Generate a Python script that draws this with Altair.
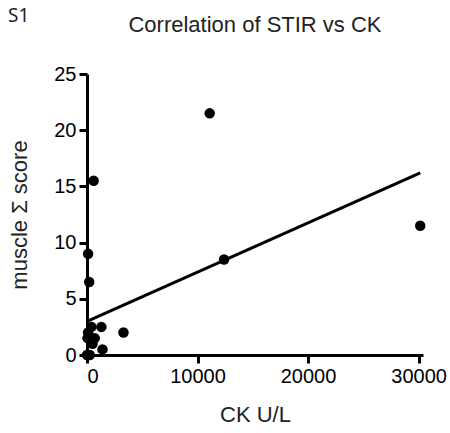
import altair as alt
import pandas as pd

ck = [11100, 30150, 12400, 600, 100, 200, 3300, 1300, 1400, 100, 50, 400, 500, 0, 250, 700]
score = [21.5, 11.5, 8.5, 15.5, 9.0, 6.5, 2.0, 2.5, 0.5, 2.0, 1.5, 2.5, 1.0, 0.0, 0.0, 1.5]

fit_x = [0, 30150]
fit_y = [3.0, 16.2]

pts = pd.DataFrame({"ck": ck, "score": score})
fit = pd.DataFrame({"ck": fit_x, "score": fit_y})

FONT = "Liberation Sans"

xs = alt.Scale(domain=[0, 30400], nice=False, zero=False)
ys = alt.Scale(domain=[0, 25], nice=False, zero=False)

xaxis = alt.Axis(values=[0, 10000, 20000, 30000], format="d", grid=False,
                 domainWidth=3, domainColor="black", tickWidth=3, tickColor="black",
                 tickSize=8, labelFontSize=20, labelFont=FONT, labelColor="black",
                 labelPadding=3, title="CK U/L", titleFont=FONT, titleFontSize=22,
                 titleFontWeight="normal", titleColor="#222", titlePadding=18)
yaxis = alt.Axis(values=[0, 5, 10, 15, 20, 25], grid=False,
                 domainWidth=3, domainColor="black", tickWidth=3, tickColor="black",
                 tickSize=8, labelFontSize=20, labelFont=FONT, labelColor="black",
                 labelPadding=3, title="muscle Σ score", titleFont=FONT, titleFontSize=22,
                 titleFontWeight="normal", titleColor="#222", titlePadding=22)

points = alt.Chart(pts).mark_circle(size=110, color="black", opacity=1).encode(
    x=alt.X("ck:Q", scale=xs, axis=xaxis),
    y=alt.Y("score:Q", scale=ys, axis=yaxis),
)
line = alt.Chart(fit).mark_line(color="black", strokeWidth=3, clip=False).encode(
    x=alt.X("ck:Q", scale=xs),
    y=alt.Y("score:Q", scale=ys),
)
label = alt.Chart(pd.DataFrame({"t": ["S1"]})).mark_text(
    font="Noto Sans", fontSize=19, color="#222", align="left", baseline="middle"
).encode(text="t:N", x=alt.value(-79), y=alt.value(-58))
title = alt.Chart(pd.DataFrame({"t": ["Correlation of STIR vs CK"]})).mark_text(
    font=FONT, fontSize=22, color="#222", align="center", baseline="middle"
).encode(text="t:N", x=alt.value(168), y=alt.value(-49))

chart = alt.layer(line, points, label, title).properties(
    width=336, height=281,
    autosize=alt.AutoSizeParams(type="none"),
    padding={"left": 87, "top": 74, "right": 27, "bottom": 78},
).configure_view(stroke=None)

chart.save("out.html", embed_options={"renderer": "svg", "actions": False})
